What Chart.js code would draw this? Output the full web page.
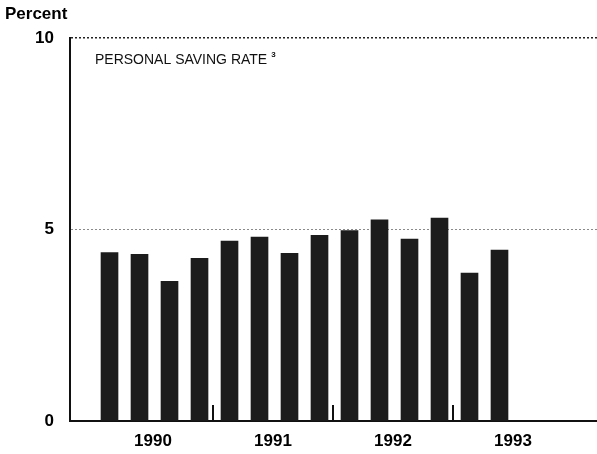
<!DOCTYPE html>
<html><head><meta charset="utf-8">
<script src="https://cdn.jsdelivr.net/npm/chart.js@4/dist/chart.umd.min.js"></script>
<style>html,body{margin:0;padding:0;background:#fff;} #wrap{width:597px;height:454px;position:relative;}</style>
</head><body><div id="wrap"><canvas id="c"></canvas></div>
<script>
// ---- data ----
const quarters = ['1990Q1','1990Q2','1990Q3','1990Q4','1991Q1','1991Q2','1991Q3','1991Q4','1992Q1','1992Q2','1992Q3','1992Q4','1993Q1','1993Q2'];
const savingRate = [4.4, 4.35, 3.65, 4.25, 4.7, 4.8, 4.38, 4.85, 4.97, 5.25, 4.75, 5.3, 3.86, 4.46];
const yTicks = [0, 5, 10];
const yearLabels = ['1990', '1991', '1992', '1993'];
const yearBoundaries = ['1991', '1992', '1993'];
const panelTitle = 'PERSONAL SAVING RATE';
const panelNote = '3';
const unitLabel = 'Percent';

// quarter index helpers (quarters since 1990Q1)
const baseYear = 1990;
const qPos = s => (parseInt(s.slice(0,4)) - baseYear) * 4 + (parseInt(s.slice(5)) - 1) + 0.55;
const yearMid = y => (parseInt(y) - baseYear) * 4 + 2;
const yearStart = y => (parseInt(y) - baseYear) * 4;

const FONT = "'Liberation Sans', Arial, Helvetica, sans-serif";

const decor = {
  id: 'decor',
  afterDatasetsDraw(chart) {
    const ctx = chart.ctx, xs = chart.scales.x, ca = chart.chartArea;
    ctx.save();
    ctx.strokeStyle = '#111';
    ctx.lineWidth = 2;
    yearBoundaries.forEach(y => {
      const px = Math.round(xs.getPixelForValue(yearStart(y)));
      ctx.beginPath();
      ctx.moveTo(px, ca.bottom);
      ctx.lineTo(px, ca.bottom - 16);
      ctx.stroke();
    });
    ctx.fillStyle = '#111';
    ctx.textBaseline = 'middle';
    ctx.textAlign = 'left';
    ctx.font = '14px ' + FONT;
    const tx = ca.left + 25, ty = ca.top + 22;
    ctx.fillText(panelTitle, tx, ty);
    const w = ctx.measureText(panelTitle).width;
    ctx.font = 'bold 8px ' + FONT;
    ctx.fillText(panelNote, tx + w + 4, ty - 5);
    ctx.restore();
  }
};

new Chart(document.getElementById('c'), {
  type: 'bar',
  data: {
    datasets: [{
      data: quarters.map((q, i) => ({ x: qPos(q), y: savingRate[i] })),
      backgroundColor: '#1c1c1c',
      borderWidth: 0,
      barThickness: 17
    }]
  },
  options: {
    responsive: true,
    maintainAspectRatio: false,
    animation: false,
    devicePixelRatio: 1,
    layout: { padding: { left: 5, right: 0, top: 0, bottom: 0 } },
    plugins: {
      legend: { display: false },
      tooltip: { enabled: false },
      title: {
        display: true,
        text: unitLabel,
        align: 'start',
        color: '#000',
        font: { family: FONT, size: 17, weight: 'bold' },
        padding: { top: 4, bottom: 13.6 }
      }
    },
    scales: {
      x: {
        type: 'linear',
        offset: false,
        min: -0.767,
        max: 16.8,
        afterBuildTicks: s => { s.ticks = yearLabels.map(y => ({ value: yearMid(y) })); },
        afterFit: s => { s.height = 33; },
        ticks: {
          autoSkip: false,
          maxRotation: 0,
          padding: 10,
          color: '#000',
          font: { family: FONT, size: 17, weight: 'bold' },
          callback: v => String(baseYear + Math.floor(v / 4))
        },
        grid: { display: false, drawTicks: false, offset: false },
        border: { display: true, color: '#111', width: 2 }
      },
      y: {
        min: 0,
        max: 10,
        afterBuildTicks: s => { s.ticks = yTicks.map(v => ({ value: v })); },
        afterFit: s => { s.width = 65; },
        ticks: {
          padding: 16,
          color: '#000',
          font: { family: FONT, size: 17, weight: 'bold' }
        },
        grid: {
          drawTicks: false,
          color: c => c.tick && c.tick.value === 5 ? '#8a8a8a' : (c.tick && c.tick.value === 10 ? '#222' : 'rgba(0,0,0,0)'),
          lineWidth: c => c.tick && c.tick.value === 10 ? 1.5 : 1
        },
        border: { display: true, color: '#111', width: 2, dash: [2, 2] }
      }
    }
  },
  plugins: [decor]
});
</script>
</body></html>
